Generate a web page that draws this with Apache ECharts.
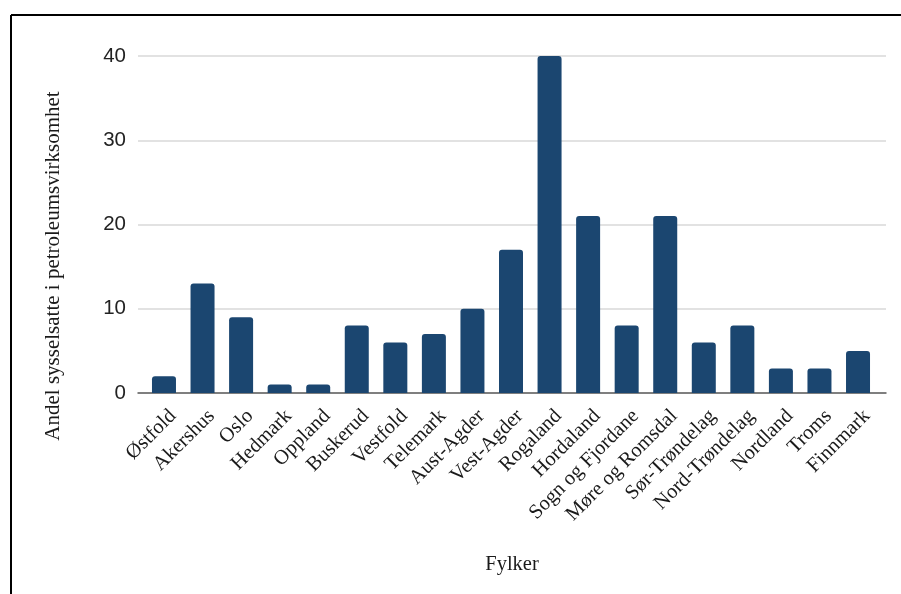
<!DOCTYPE html>
<html>
<head>
<meta charset="utf-8">
<script src="https://cdn.jsdelivr.net/npm/echarts@6/dist/echarts.min.js"></script>
<style>
  html, body { margin: 0; padding: 0; background: #fff; }
  #chart { width: 901px; height: 594px; }
</style>
</head>
<body>
<div id="chart"></div>
<script>
// Andel sysselsatte i petroleumsvirksomhet per fylke (%)
const fylker = ['Østfold', 'Akershus', 'Oslo', 'Hedmark', 'Oppland', 'Buskerud', 'Vestfold',
  'Telemark', 'Aust-Agder', 'Vest-Agder', 'Rogaland', 'Hordaland', 'Sogn og Fjordane',
  'Møre og Romsdal', 'Sør-Trøndelag', 'Nord-Trøndelag', 'Nordland', 'Troms', 'Finnmark'];
const andel = [2, 13, 9, 1, 1, 8, 6, 7, 10, 17, 40, 21, 8, 21, 6, 8, 2.9, 2.9, 5];
const yTicks = [0, 10, 20, 30, 40];

const yMin = yTicks[0];
const yMax = yTicks[yTicks.length - 1];
const yStep = yTicks[1] - yTicks[0];

const serif = '"Liberation Serif", "Times New Roman", serif';
const sans = '"Liberation Sans", Arial, sans-serif';
const labelShift = 9; // rotated category labels sit a little right of their bar

const chart = echarts.init(document.getElementById('chart'), null, { renderer: 'canvas' });

chart.setOption({
  backgroundColor: '#ffffff',
  animation: false,
  grid: [
    // frame for gridlines, y labels and the baseline
    { left: 138, right: 15, top: 56, bottom: 201 },
    // category band for the bars
    { left: 144.7, right: 23.7, top: 56, bottom: 201 },
    // category band for the rotated labels
    { left: 144.7 + labelShift, right: 23.7 - labelShift, top: 56, bottom: 201 }
  ],
  xAxis: [
    {
      gridIndex: 0, type: 'value', min: 0, max: 1,
      axisLine: { show: true, onZero: false, lineStyle: { color: '#5f5f5f', width: 1.5 } },
      axisTick: { show: false }, axisLabel: { show: false }, splitLine: { show: false },
      name: 'Fylker', nameLocation: 'middle', nameGap: 161,
      nameTextStyle: { fontFamily: serif, fontSize: 20.5, color: '#1a1a1a' }
    },
    {
      gridIndex: 1, type: 'category', data: fylker,
      axisLine: { show: false }, axisTick: { show: false }, axisLabel: { show: false }
    },
    {
      gridIndex: 2, type: 'category', data: fylker,
      axisLine: { show: false }, axisTick: { show: false },
      axisLabel: {
        rotate: 45, interval: 0, margin: 20,
        fontFamily: serif, fontSize: 20.5, color: '#1a1a1a'
      }
    }
  ],
  yAxis: [
    {
      gridIndex: 0, type: 'value', min: yMin, max: yMax, interval: yStep,
      axisLine: { show: false }, axisTick: { show: false },
      axisLabel: { margin: 12, fontFamily: sans, fontSize: 20.5, color: '#222222' },
      splitLine: { lineStyle: { color: '#d9d9d9', width: 1.5 } }
    },
    { gridIndex: 1, type: 'value', min: yMin, max: yMax, interval: yStep, show: false },
    { gridIndex: 2, type: 'value', min: yMin, max: yMax, interval: yStep, show: false }
  ],
  graphic: [
    {
      type: 'text', x: 53, y: 266, rotation: Math.PI / 2,
      style: {
        text: 'Andel sysselsatte i petroleumsvirksomhet',
        fontFamily: serif, fontSize: 21, fill: '#1a1a1a',
        align: 'center', verticalAlign: 'middle'
      }
    },
    { type: 'line', shape: { x1: 11, y1: 15, x2: 901, y2: 15 }, style: { stroke: '#000', lineWidth: 2 } },
    { type: 'line', shape: { x1: 11, y1: 15, x2: 11, y2: 594 }, style: { stroke: '#000', lineWidth: 2 } }
  ],
  series: [
    {
      type: 'bar', xAxisIndex: 1, yAxisIndex: 1, data: andel,
      barWidth: 24,
      itemStyle: { color: '#1b4670', borderRadius: [3, 3, 0, 0] },
      z: 3
    }
  ]
});
</script>
</body>
</html>
